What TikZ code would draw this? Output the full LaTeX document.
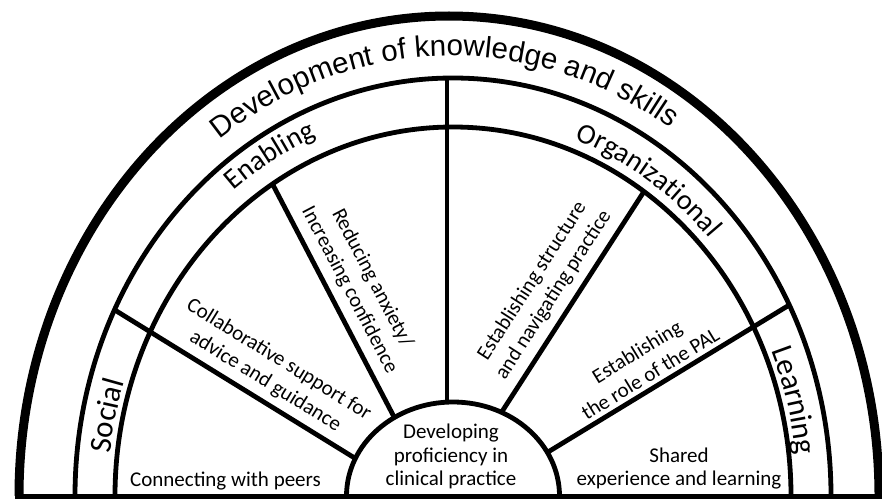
\documentclass[tikz,border=0pt]{standalone}
\usepackage{fontspec}
\setmainfont{Carlito}
\newfontfamily\arialfont{Liberation Sans}
\usetikzlibrary{decorations.text}
\begin{document}
\begin{tikzpicture}[x=1pt,y=1pt,
  ringline/.style={line width=4.8pt},
  outerline/.style={line width=9pt},
  divider/.style={line width=4.8pt, shorten <=-30pt, shorten >=-30pt},
  lbl/.style={font=\fontsize{21}{25.5}\selectfont, inner sep=0pt, align=center},
]
\useasboundingbox (0,0) rectangle (882,499);

% divider end points
\coordinate (d1a) at (118,187);  \coordinate (d1b) at (353,42);
\coordinate (d2a) at (273,314);  \coordinate (d2b) at (392,86);
\coordinate (d3a) at (447,430);  \coordinate (d3b) at (447,0);
\coordinate (d4a) at (643,306);  \coordinate (d4b) at (503,89);
\coordinate (d5a) at (786,192);  \coordinate (d5b) at (548,47);

% dividers reaching the middle ring
\begin{scope}[even odd rule]
  \clip (453,3) ellipse [x radius=378, y radius=418]
        (453,3) ellipse [x radius=106.5, y radius=94];
  \draw[divider] (d1a) -- (d1b);
  \draw[divider] (d3a) -- (d3b);
  \draw[divider] (d5a) -- (d5b);
\end{scope}
% dividers of the inner area
\begin{scope}[even odd rule]
  \clip (453,3) ellipse [x radius=338, y radius=369]
        (453,3) ellipse [x radius=106.5, y radius=94];
  \draw[divider] (d2a) -- (d2b);
  \draw[divider] (d4a) -- (d4b);
\end{scope}

% arcs
\draw[outerline] ([shift={(449,3)}]180:430 and 480) arc[start angle=180, end angle=0, x radius=430, y radius=480];
\draw[ringline] ([shift={(453,3)}]180:378 and 418) arc[start angle=180, end angle=0, x radius=378, y radius=418];
\draw[ringline] ([shift={(453,3)}]180:338 and 369) arc[start angle=180, end angle=0, x radius=338, y radius=369];
\draw[ringline] ([shift={(453,3)}]180:106.5 and 94) arc[start angle=180, end angle=0, x radius=106.5, y radius=94];
\draw[line width=5pt] (14.5,3) -- (882,3);

% curved labels
\path[decorate, decoration={text along path, text align=center,
  text={|\arialfont\fontsize{29.5}{29.5}\selectfont|Development of knowledge and skills}}]
  ([shift={(452,3)}]140:397 and 440) arc[start angle=140, end angle=42.4, x radius=397, y radius=440];
\path[decorate, decoration={text along path, text align=left,
  text={|\fontsize{28.5}{28.5}\selectfont|Enabling}}]
  ([shift={(453,3)}]128.3:354 and 389) arc[start angle=128.3, end angle=95, x radius=354, y radius=389];
\path[decorate, decoration={text along path, text align=left,
  text={|\fontsize{28.5}{28.5}\selectfont|Organizational}}]
  ([shift={(453,3)}]69.5:348 and 381) arc[start angle=69.5, end angle=15, x radius=348, y radius=381];
\path[decorate, decoration={text along path, text align=left,
  text={|\fontsize{31}{31}\selectfont|Social}}]
  ([shift={(453,3)}]173.5:345 and 378) arc[start angle=173.5, end angle=140, x radius=345, y radius=378];
\path[decorate, decoration={text along path, text align=left,
  text={|\fontsize{31}{31}\selectfont|Learning}}]
  ([shift={(453,3)}]22.7:345 and 378) arc[start angle=22.7, end angle=-8, x radius=345, y radius=378];

% inner labels
\node[lbl, anchor=base] (connect) at (225.5,13) {Connecting with peers};
\node[lbl, anchor=base] (dev1) at (451,61) {Developing};
\node[lbl, anchor=base] (dev2) at (451,37) {proficiency in};
\node[lbl, anchor=base] (dev3) at (451,14) {clinical practice};
\node[lbl, anchor=base] (shared1) at (679,37) {Shared};
\node[lbl, anchor=base] (shared2) at (679,14) {experience and learning};
\node[lbl, rotate=-31.7] (collab) at (272,128.5) {Collaborative support for\\advice and guidance};
\node[lbl, rotate=-62.4] (reduce) at (360.7,214.8) {Reducing anxiety/\\Increasing confidence};
\node[lbl, rotate=57.2] (struct) at (543,211) {Establishing structure\\and navigating practice};
\node[lbl, rotate=31.4] (role) at (643.5,136.5) {Establishing\\the role of the PAL};
\end{tikzpicture}
\end{document}
